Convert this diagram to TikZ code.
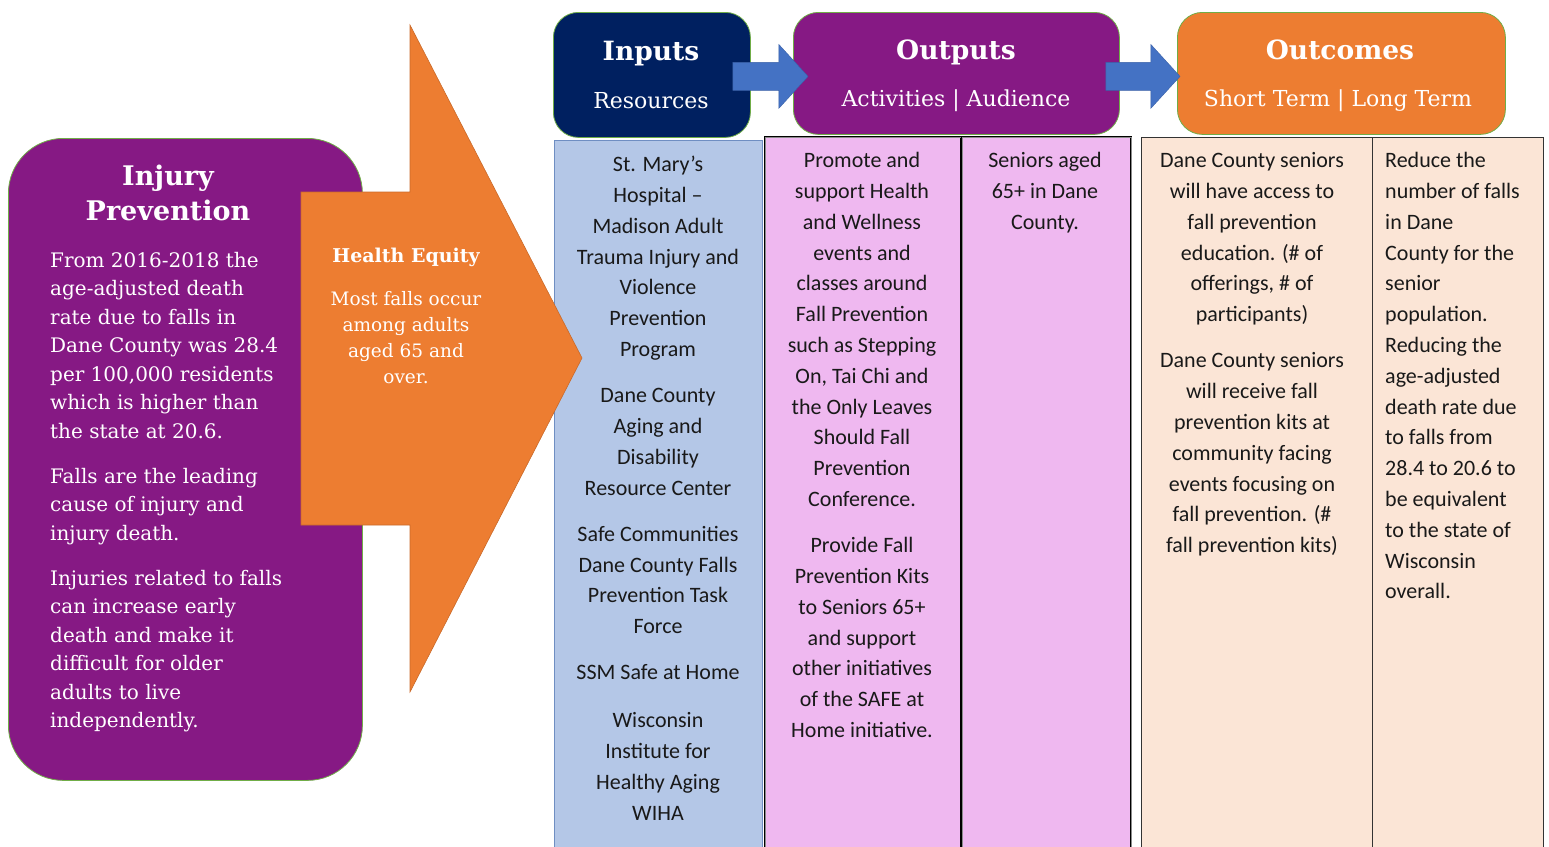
\documentclass[tikz,border=0pt]{standalone}
\usepackage{fontspec}
\usepackage{tikz}
\usetikzlibrary{calc}
\setmainfont{DejaVu Serif}
\newfontfamily\calibri{Carlito}

\definecolor{ipurple}{RGB}{134,25,132}
\definecolor{inavy}{RGB}{0,32,96}
\definecolor{iorange}{RGB}{237,125,49}
\definecolor{iblue}{RGB}{68,114,196}
\definecolor{igreen}{RGB}{112,173,71}
\definecolor{colblue}{RGB}{180,199,231}
\definecolor{colpink}{RGB}{239,184,240}
\definecolor{colpeach}{RGB}{251,229,214}
\definecolor{blueline}{RGB}{111,142,194}

\tikzstyle{headbox}=[rectangle,rounded corners=25pt,draw=igreen,
                     line width=0.8pt,inner sep=0pt,anchor=north west]
\tikzstyle{colbox}=[rectangle,inner sep=0pt,anchor=north west,
                    minimum height=720]
\tikzstyle{headtitle}=[anchor=base,text=white,inner sep=0pt,
                       font=\fontsize{26.5}{26.5}\selectfont\bfseries]
\tikzstyle{headsub}=[anchor=base,text=white,inner sep=0pt,
                     font=\fontsize{22}{22}\selectfont]
\tikzstyle{coltext}=[anchor=north,align=center,inner sep=0pt,
                     text=black!90,font=\calibri\fontsize{22}{30.8}\selectfont]
\tikzstyle{sidetext}=[anchor=north west,align=flush left,inner sep=0pt,
                      text=white,text width=300,
                      font=\fontsize{20}{28.5}\selectfont]
\tikzstyle{blockarrow}=[fill=iblue,draw=iblue!85!black,line width=0.4pt]

\begin{document}
\begin{tikzpicture}[x=1pt,y=-1pt]
    \useasboundingbox (0,0) rectangle (1549,846);
    \newcommand{\gap}{15.4pt}
    % left panel
    \node (injbox) at (8,138) [rectangle,anchor=north west,inner sep=0pt,
          rounded corners=55pt,fill=ipurple,draw=igreen,line width=0.8pt,
          minimum width=354,minimum height=642]{};
    % columns
    \node (incol) at (554,140) [colbox,fill=colblue,draw=blueline,
          line width=1pt,minimum width=208]{};
    \node (actcol) at (765,137) [colbox,fill=colpink,draw=black,
          double=black!45,double distance=0.6pt,line width=0.7pt,
          minimum width=196]{};
    \node (audcol) at (962,137) [colbox,fill=colpink,draw=black,
          double=black!45,double distance=0.6pt,line width=0.7pt,
          minimum width=169]{};
    \node (shortcol) at (1141,137) [colbox,fill=colpeach,draw=black!80,
          line width=1pt,minimum width=231]{};
    \node (longcol) at (1372,137) [colbox,fill=colpeach,draw=black!80,
          line width=1pt,minimum width=171]{};
    % health equity chevron
    \draw[fill=iorange,draw=iorange!85!black,line width=0.6pt]
        (301,192) -- (410,192) -- (410,25) -- (582,358) -- (410,692)
        -- (410,525) -- (301,525) -- cycle;
    % header boxes
    \node (inbox) at (553,12) [headbox,fill=inavy,
          minimum width=197,minimum height=125]{};
    \node (outbox) at (793,12) [headbox,fill=ipurple,
          minimum width=326,minimum height=122]{};
    \node (outcbox) at (1177,12) [headbox,fill=iorange,
          minimum width=328,minimum height=122]{};
    \draw[blockarrow] ($(inbox.east)+(-18,-12.5)$) -- ++(46,0) -- ++(0,-18)
        -- ($(outbox.west)+(15,3)$) -- ($(inbox.east)+(28,33.5)$)
        -- ++(0,-18) -- ($(inbox.east)+(-18,15.5)$) -- cycle;
    \draw[blockarrow] ($(outbox.east)+(-14,-11)$) -- ++(45,0) -- ++(0,-18)
        -- ($(outcbox.west)+(3,3)$) -- ($(outbox.east)+(31,35)$)
        -- ++(0,-18) -- ($(outbox.east)+(-14,17)$) -- cycle;
    % header texts
    \node (intitle) at (651,60) [headtitle]{Inputs};
    \node (insub) at (651,108) [headsub]{Resources};
    \node (outtitle) at (956,59) [headtitle]{Outputs};
    \node (outsub) at (956,106) [headsub]{Activities | Audience};
    \node (outctitle) at (1340,59) [headtitle]{Outcomes};
    \node (outcsub) at (1338,106) [headsub]{Short Term | Long Term};
    % left panel texts
    \node (injtitle) at (168,165) [anchor=north,align=center,inner sep=0pt,
          text=white,font=\fontsize{27}{35}\selectfont\bfseries]
          {Injury\\Prevention};
    \node (injtext) at (50,247) [sidetext]
          {\strut From 2016-2018 the\\age-adjusted death\\rate due to falls in\\
           Dane County was 28.4\\per 100,000 residents\\which is higher than\\
           the state at 20.6.\\[16.5pt]Falls are the leading\\cause of injury and\\
           injury death.\\[16.5pt]Injuries related to falls\\can increase early\\
           death and make it\\difficult for older\\adults to live\\independently.};
    \node (eqtitle) at (406,262) [anchor=base,inner sep=0pt,text=white,
          font=\fontsize{19}{19}\selectfont\bfseries]{Health Equity};
    \node (eqtext) at (406,286.8) [anchor=north,align=center,inner sep=0pt,
          text=white,font=\fontsize{18.5}{26}\selectfont]
          {\strut Most falls occur\\among adults\\aged 65 and\\over.};
    % column texts
    \node (intext) at (658,150) [coltext]
          {\strut St. Mary’s\\Hospital –\\Madison Adult\\Trauma Injury and\\
           Violence\\Prevention\\Program\\[\gap]Dane County\\Aging and\\
           Disability\\Resource Center\\[\gap]Safe Communities\\
           Dane County Falls\\Prevention Task\\Force\\[\gap]SSM Safe at Home\\[17pt]
           Wisconsin\\Institute for\\Healthy Aging\\WIHA};
    \node (acttext) at (862,146) [coltext]
          {\strut Promote and\\support Health\\and Wellness\\events and\\
           classes around\\Fall Prevention\\such as Stepping\\On, Tai Chi and\\
           the Only Leaves\\Should Fall\\Prevention\\Conference.\\[\gap]
           Provide Fall\\Prevention Kits\\to Seniors 65+\\and support\\
           other initiatives\\of the SAFE at\\Home initiative.};
    \node (audtext) at (1045,146) [coltext]
          {\strut Seniors aged\\65+ in Dane\\County.};
    \node (shorttext) at (1252,146) [coltext]
          {\strut Dane County seniors\\will have access to\\fall prevention\\
           education. (\# of\\offerings, \# of\\participants)\\[\gap]
           Dane County seniors\\will receive fall\\prevention kits at\\
           community facing\\events focusing on\\fall prevention. (\#\\
           fall prevention kits)};
    \node (longtext) at (1385,146) [coltext,anchor=north west,align=flush left,
          text width=155]
          {\strut Reduce the\\number of falls\\in Dane\\County for the\\senior\\
           population.\\Reducing the\\age-adjusted\\death rate due\\to falls from\\
           28.4 to 20.6 to\\be equivalent\\to the state of\\Wisconsin\\overall.};
\end{tikzpicture}
\end{document}
